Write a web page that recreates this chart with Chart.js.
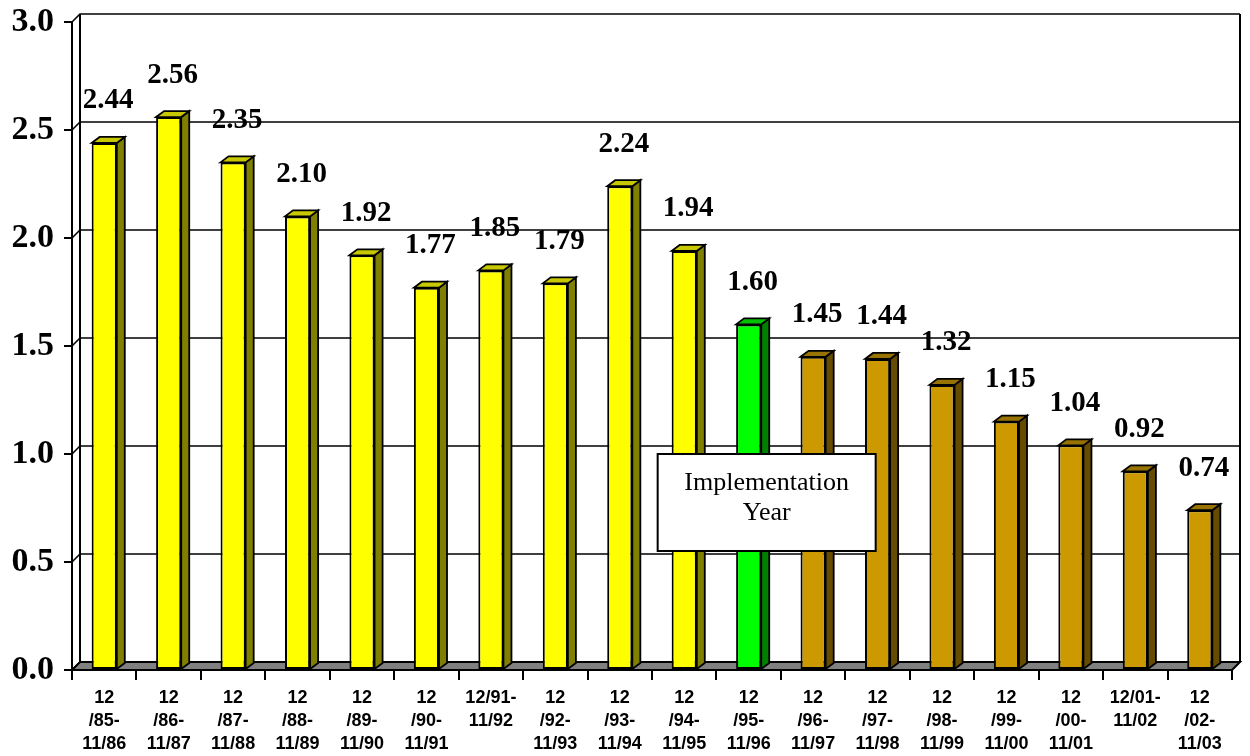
<!DOCTYPE html>
<html>
<head>
<meta charset="utf-8">
<script src="https://cdn.jsdelivr.net/npm/chart.js@4.4.1/dist/chart.umd.min.js"></script>
<style>
  html, body { margin: 0; padding: 0; background: #ffffff; }
  canvas { display: block; }
</style>
</head>
<body>
<canvas id="chart" width="1250" height="756"></canvas>
<script>
// Reporting periods (December to November), one multi-line label each
const periods = [
  ["12", "/85-", "11/86"],
  ["12", "/86-", "11/87"],
  ["12", "/87-", "11/88"],
  ["12", "/88-", "11/89"],
  ["12", "/89-", "11/90"],
  ["12", "/90-", "11/91"],
  ["12/91-", "11/92"],
  ["12", "/92-", "11/93"],
  ["12", "/93-", "11/94"],
  ["12", "/94-", "11/95"],
  ["12", "/95-", "11/96"],
  ["12", "/96-", "11/97"],
  ["12", "/97-", "11/98"],
  ["12", "/98-", "11/99"],
  ["12", "/99-", "11/00"],
  ["12", "/00-", "11/01"],
  ["12/01-", "11/02"],
  ["12", "/02-", "11/03"]
];

// Rate for each period
const rates = [2.44, 2.56, 2.35, 2.10, 1.92, 1.77, 1.85, 1.79, 2.24, 1.94,
               1.60, 1.45, 1.44, 1.32, 1.15, 1.04, 0.92, 0.74];

// Phase of each period relative to the implementation year
const phases = ["before", "before", "before", "before", "before", "before",
                "before", "before", "before", "before", "implementation",
                "after", "after", "after", "after", "after", "after", "after"];

// Value axis ticks
const yTicks = [0, 0.5, 1.0, 1.5, 2.0, 2.5, 3.0];

// Callout text
const noteLines = ["Implementation", "Year"];
const noteValue = 1.0; // callout top edge sits on this value

// Face colours per phase: front, side, top
const palette = {
  before:         { front: "#FFFF00", side: "#808000", top: "#C8C800" },
  implementation: { front: "#00FF00", side: "#008000", top: "#00C000" },
  after:          { front: "#CC9900", side: "#664C00", top: "#997300" }
};

const WALL = { dx: 8, dy: 8 };   // depth of the back wall
const BAR  = { dx: 8, dy: 6 };   // depth of each column

const noteIndex = phases.indexOf("implementation");

const depthPlugin = {
  id: "depth3d",
  beforeDatasetsDraw(chart) {
    const { ctx, chartArea: a, scales: { y } } = chart;
    ctx.save();
    // floor
    ctx.beginPath();
    ctx.moveTo(a.left, a.bottom);
    ctx.lineTo(a.left + WALL.dx, a.bottom - WALL.dy);
    ctx.lineTo(a.right + WALL.dx, a.bottom - WALL.dy);
    ctx.lineTo(a.right, a.bottom);
    ctx.closePath();
    ctx.fillStyle = "#808080";
    ctx.fill();
    ctx.lineWidth = 2;
    ctx.strokeStyle = "#000";
    ctx.stroke();
    // back wall grid lines with their side-wall diagonals
    ctx.lineWidth = 1.6;
    yTicks.forEach(v => {
      const py = y.getPixelForValue(v);
      ctx.beginPath();
      ctx.moveTo(a.left, py);
      ctx.lineTo(a.left + WALL.dx, py - WALL.dy);
      ctx.lineTo(a.right + WALL.dx, py - WALL.dy);
      ctx.stroke();
    });
    // back wall vertical edges
    ctx.lineWidth = 2;
    [a.left + WALL.dx, a.right + WALL.dx].forEach(px => {
      ctx.beginPath();
      ctx.moveTo(px, a.top - WALL.dy);
      ctx.lineTo(px, a.bottom - WALL.dy);
      ctx.stroke();
    });
    ctx.restore();
  },
  afterDatasetsDraw(chart) {
    const { ctx, scales: { x, y } } = chart;
    const meta = chart.getDatasetMeta(0);
    ctx.save();
    ctx.lineWidth = 1.8;
    ctx.strokeStyle = "#000";
    ctx.lineJoin = "miter";
    meta.data.forEach((bar, i) => {
      const p = bar.getProps(["x", "y", "base", "width"], true);
      const left = p.x - p.width / 2;
      const right = p.x + p.width / 2;
      const c = palette[phases[i]];
      // side face
      ctx.beginPath();
      ctx.moveTo(right, p.y);
      ctx.lineTo(right + BAR.dx, p.y - BAR.dy);
      ctx.lineTo(right + BAR.dx, p.base - BAR.dy);
      ctx.lineTo(right, p.base);
      ctx.closePath();
      ctx.fillStyle = c.side;
      ctx.fill();
      ctx.stroke();
      // top face
      ctx.beginPath();
      ctx.moveTo(left, p.y);
      ctx.lineTo(left + BAR.dx, p.y - BAR.dy);
      ctx.lineTo(right + BAR.dx, p.y - BAR.dy);
      ctx.lineTo(right, p.y);
      ctx.closePath();
      ctx.fillStyle = c.top;
      ctx.fill();
      ctx.stroke();
    });
    // value labels
    ctx.fillStyle = "#000";
    ctx.font = 'bold 29px "Liberation Serif", "Times New Roman", serif';
    ctx.textAlign = "center";
    ctx.textBaseline = "middle";
    meta.data.forEach((bar, i) => {
      const p = bar.getProps(["x", "y"], true);
      ctx.fillText(rates[i].toFixed(2), p.x + 4, p.y - 42);
    });
    // implementation-year callout
    const cx = x.getPixelForValue(noteIndex) + 18;
    const top = y.getPixelForValue(noteValue);
    const w = 218, h = 97;
    ctx.fillStyle = "#fff";
    ctx.fillRect(cx - w / 2, top, w, h);
    ctx.lineWidth = 2;
    ctx.strokeRect(cx - w / 2, top, w, h);
    ctx.fillStyle = "#000";
    ctx.font = '26px "Liberation Serif", "Times New Roman", serif';
    noteLines.forEach((t, k) => ctx.fillText(t, cx, top + 29 + k * 30));
    ctx.restore();
  }
};

new Chart(document.getElementById("chart"), {
  type: "bar",
  data: {
    labels: periods,
    datasets: [{
      data: rates,
      backgroundColor: phases.map(p => palette[p].front),
      borderColor: "#000",
      borderWidth: 2,
      borderSkipped: false,
      categoryPercentage: 1,
      barPercentage: 0.39
    }]
  },
  options: {
    responsive: false,
    animation: false,
    devicePixelRatio: 1,
    layout: { padding: { top: 22, right: 18, left: 0, bottom: 0 } },
    plugins: { legend: { display: false }, tooltip: { enabled: false } },
    scales: {
      x: {
        grid: { display: true, drawOnChartArea: false, drawTicks: true, tickLength: 10,
                color: "#000", lineWidth: 2, offset: true },
        border: { display: true, color: "#000", width: 2 },
        ticks: {
          color: "#000",
          font: { family: '"Liberation Sans", Arial, sans-serif', weight: "bold", size: 18, lineHeight: 1.3 },
          padding: 6,
          maxRotation: 0,
          autoSkip: false
        },
        afterFit(s) { s.height = 86; }
      },
      y: {
        min: 0,
        max: 3,
        afterBuildTicks(s) { s.ticks = yTicks.map(v => ({ value: v })); },
        ticks: {
          color: "#000",
          font: { family: '"Liberation Serif", "Times New Roman", serif', weight: "bold", size: 34, lineHeight: 0.6 },
          padding: 10,
          callback: v => Number(v).toFixed(1)
        },
        grid: { drawOnChartArea: false, drawTicks: true, tickLength: 8, color: "#000", lineWidth: 2 },
        border: { display: true, color: "#000", width: 2 },
        afterFit(s) { s.width = 72; }
      }
    }
  },
  plugins: [depthPlugin]
});
</script>
</body>
</html>
